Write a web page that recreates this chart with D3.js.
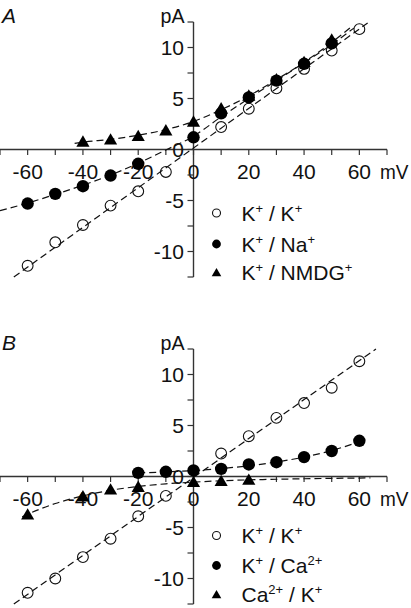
<!DOCTYPE html>
<html><head><meta charset="utf-8">
<script src="https://cdn.jsdelivr.net/npm/d3@7"></script>
<style>
body{margin:0;background:#fff}
svg{display:block}
text{font-family:"Liberation Sans",Arial,Helvetica,sans-serif;fill:#111}
</style>
</head><body>
<svg id="c" width="411" height="608"></svg>
<script>
// ---- data ----
const voltages = [-60,-50,-40,-30,-20,-10,0,10,20,30,40,50,60];
// Panel A
const aKK   = [-11.4,-9.1,-7.4,-5.5,-4.1,-2.2,null,2.2,4.0,6.0,7.9,9.7,11.8];
const aKNa  = [-5.3,-4.35,-3.6,-2.55,-1.4,null,1.2,3.55,5.1,6.75,8.4,10.4,null];
const aKNMDG= [null,null,0.8,1.0,1.35,1.9,2.75,4.05,5.3,6.9,8.6,10.8,null];
// Panel B
const bKK   = [-11.4,-10.0,-7.9,-6.1,-3.9,-1.9,null,2.25,3.95,5.75,7.2,8.7,11.3];
const bKCa  = [null,null,null,null,0.36,0.46,0.59,0.75,1.18,1.4,1.9,2.5,3.5];
const bCaK  = [-3.7,null,-1.93,-1.25,-1.0,null,-0.52,-0.42,-0.3,null,null,null,null];
// fitted curves
const fitAKK_v   = [-65,63];
const fitAKK_i   = [-12.5,12.4];
const fitANa_v   = [-70,-60,-50,-40,-30,-20,-10,0,10,20,30,40,50,58];
const fitANa_i   = [-6.0,-5.25,-4.4,-3.5,-2.5,-1.35,-0.05,1.3,3.2,5.0,6.75,8.5,10.3,11.9];
const fitANMDG_v = [-43,-40,-30,-20,-10,0,10,20,30,40,50,57];
const fitANMDG_i = [0.6,0.72,1.0,1.4,1.95,2.75,3.9,5.25,6.85,8.55,10.5,12.0];
const fitBKK_v   = [-65,66];
const fitBKK_i   = [-12.5,12.5];
const fitBKCa_v  = [-20,-10,0,10,20,30,40,50,60];
const fitBKCa_i  = [0.35,0.45,0.58,0.78,1.05,1.42,1.9,2.55,3.4];
const fitBCaK_v  = [-62,-60,-50,-40,-30,-20,-10,0,10,20,30,40,50,64];
const fitBCaK_i  = [-3.95,-3.7,-2.65,-1.9,-1.35,-0.98,-0.72,-0.55,-0.42,-0.33,-0.27,-0.22,-0.18,-0.14];
// ticks
const xTicks = [-70,-60,-50,-40,-30,-20,-10,0,10,20,30,40,50,60,70];
const xTickLabels = [-60,-40,-20,0,20,40,60];
const yTicks = [-12.5,-10,-7.5,-5,-2.5,0,2.5,5,7.5,10,12.5];
const yTickLabels = [-10,-5,0,5,10];

// ---- drawing ----
const svg = d3.select("#c");
const FS = 21;
const x = d3.scaleLinear().domain([-70,70]).range([0,387]);

function sup(textSel, parts){
  parts.forEach(([t,s])=>{
    const ts = textSel.append("tspan").text(t);
    if(s){ ts.attr("font-size", 13).attr("baseline-shift","62%"); }
  });
}

function panel(cfg){
  const y = d3.scaleLinear().domain([-12.5,12.5]).range([cfg.y0+127.5, cfg.y0-127.5]);
  const g = svg.append("g");
  const ax = "#333";
  g.append("line").attr("x1",x(-70)).attr("x2",x(70)).attr("y1",y(0)).attr("y2",y(0))
    .attr("stroke",ax).attr("stroke-width",1.4);
  g.append("line").attr("x1",x(0)).attr("x2",x(0)).attr("y1",y(12.5)).attr("y2",y(-12.5))
    .attr("stroke",ax).attr("stroke-width",1.4);
  g.selectAll(".xt").data(xTicks).join("line")
    .attr("x1",d=>x(d)).attr("x2",d=>x(d)).attr("y1",y(0)).attr("y2",y(0)+5.5)
    .attr("stroke",ax).attr("stroke-width",1.2);
  g.selectAll(".xl").data(xTickLabels).join("text")
    .attr("x",d=>x(d)).attr("y",y(0)+29.5).attr("text-anchor","middle")
    .attr("font-size",FS).text(d=>d);
  g.selectAll(".yt").data(yTicks).join("line")
    .attr("x1",x(0)-6).attr("x2",x(0)).attr("y1",d=>y(d)).attr("y2",d=>y(d))
    .attr("stroke",ax).attr("stroke-width",1.2);
  g.selectAll(".yl").data(yTickLabels).join("text")
    .attr("x",x(0)-9.5).attr("y",d=>y(d)).attr("dy","0.36em").attr("text-anchor","end")
    .attr("font-size",FS).text(d=>d);
  g.append("text").attr("x",160.5).attr("y",y(12.5)+1).attr("font-size",FS)
    .attr("textLength",24).attr("lengthAdjust","spacingAndGlyphs").text("pA");
  g.append("text").attr("x",380).attr("y",y(0)+29.5).attr("font-size",FS)
    .attr("textLength",28.5).attr("lengthAdjust","spacingAndGlyphs").text("mV");
  g.append("text").attr("x",2).attr("y",cfg.y0-126.5).attr("font-size",FS).attr("font-style","italic").text(cfg.label);

  const line = d3.line().x(d=>x(d[0])).y(d=>y(d[1])).curve(d3.curveMonotoneX);
  cfg.fits.forEach(([vs,is])=>{
    g.append("path").datum(vs.map((v,i)=>[v,is[i]]))
      .attr("d",line).attr("fill","none").attr("stroke","#111").attr("stroke-width",1.2)
      .attr("stroke-dasharray","7,4");
  });

  const pts = arr => voltages.map((v,i)=>[v,arr[i]]).filter(d=>d[1]!=null);
  cfg.series.forEach(s=>{
    const p = pts(s.data);
    if(s.type==="open"){
      g.selectAll(null).data(p).join("circle").attr("cx",d=>x(d[0])).attr("cy",d=>y(d[1]))
        .attr("r",5.4).attr("fill","none").attr("stroke","#111").attr("stroke-width",1.1);
    } else if(s.type==="filled"){
      g.selectAll(null).data(p).join("circle").attr("cx",d=>x(d[0])).attr("cy",d=>y(d[1]))
        .attr("r",6.2).attr("fill","#000");
    } else {
      g.selectAll(null).data(p).join("path")
        .attr("transform",d=>`translate(${x(d[0])},${y(d[1])+1.5})`)
        .attr("d",d3.symbol(d3.symbolTriangle,75)()).attr("fill","#000");
    }
  });

  cfg.series.forEach((s,k)=>{
    const by = cfg.legendY[k];
    const cy = by - 7.5;
    if(s.type==="open"){
      g.append("circle").attr("cx",216.5).attr("cy",cy).attr("r",4).attr("fill","none").attr("stroke","#111").attr("stroke-width",1.1);
    } else if(s.type==="filled"){
      g.append("circle").attr("cx",216.5).attr("cy",cy).attr("r",4.4).attr("fill","#000");
    } else {
      g.append("path").attr("transform",`translate(216.5,${cy+1})`).attr("d",d3.symbol(d3.symbolTriangle,40)()).attr("fill","#000");
    }
    const t = g.append("text").attr("x",241.5).attr("y",by).attr("font-size",FS);
    sup(t, s.name);
  });
}

panel({
  y0:149.5, label:"A",
  fits:[[fitAKK_v,fitAKK_i],[fitANa_v,fitANa_i],[fitANMDG_v,fitANMDG_i]],
  series:[
    {type:"open",data:aKK,name:[["K",0],["+",1],[" / K",0],["+",1]]},
    {type:"filled",data:aKNa,name:[["K",0],["+",1],[" / Na",0],["+",1]]},
    {type:"tri",data:aKNMDG,name:[["K",0],["+",1],[" / NMDG",0],["+",1]]}
  ],
  legendY:[220.5,251.5,280]
});
panel({
  y0:476.5, label:"B",
  fits:[[fitBKK_v,fitBKK_i],[fitBKCa_v,fitBKCa_i],[fitBCaK_v,fitBCaK_i]],
  series:[
    {type:"open",data:bKK,name:[["K",0],["+",1],[" / K",0],["+",1]]},
    {type:"filled",data:bKCa,name:[["K",0],["+",1],[" / Ca",0],["2+",1]]},
    {type:"tri",data:bCaK,name:[["Ca",0],["2+",1],[" / K",0],["+",1]]}
  ],
  legendY:[543,573,602]
});
</script>
</body></html>
